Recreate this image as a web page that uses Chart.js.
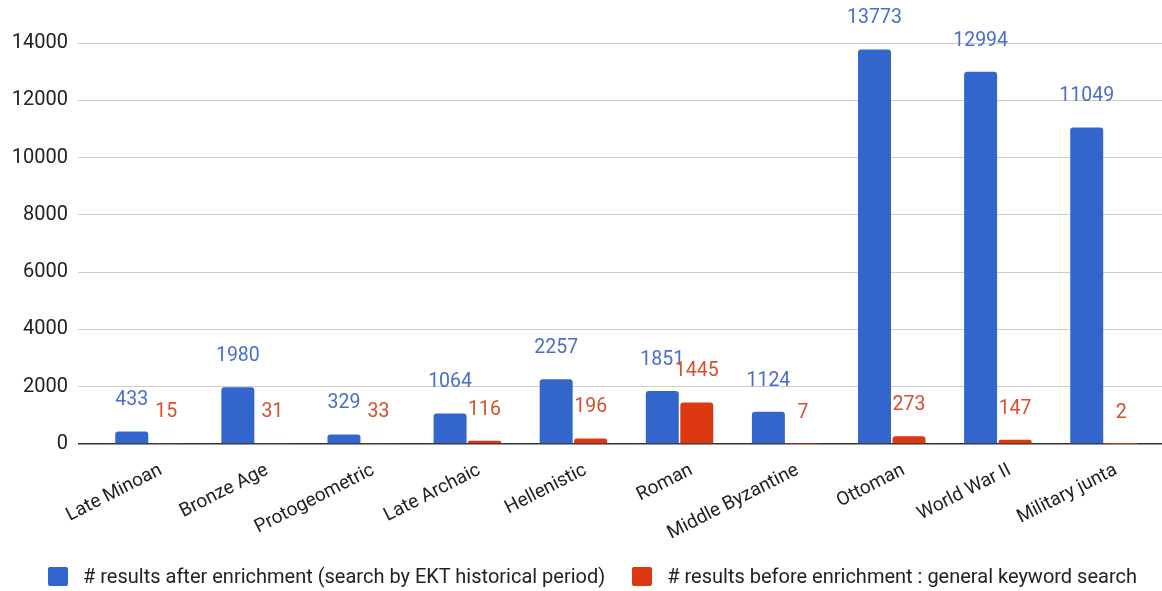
<!DOCTYPE html>
<html>
<head>
<meta charset="utf-8">
<script src="https://cdn.jsdelivr.net/npm/chart.js@4"></script>
<style>
  html, body { margin: 0; padding: 0; background: #ffffff; }
  #wrap { position: relative; width: 1162px; height: 591px; overflow: hidden; }
  #c { position: absolute; left: 0; top: 0; }
  #legend { position: absolute; left: 48px; top: 564px; display: flex; align-items: center;
            font-family: Roboto, sans-serif; font-size: 20px; color: #222; white-space: nowrap; }
  .item { display: flex; align-items: center; margin-right: 27px; }
  .box { width: 20px; height: 19px; border-radius: 2px; margin-right: 15px; }
</style>
</head>
<body>
<div id="wrap">
  <canvas id="c" width="1162" height="591"></canvas>
  <div id="legend"></div>
</div>
<script>
const categories = ["Late Minoan", "Bronze Age", "Protogeometric", "Late Archaic", "Hellenistic",
                    "Roman", "Middle Byzantine", "Ottoman", "World War II", "Military junta"];
const afterEnrichment = [433, 1980, 329, 1064, 2257, 1851, 1124, 13773, 12994, 11049];
const beforeEnrichment = [15, 31, 33, 116, 196, 1445, 7, 273, 147, 2];
const yTicks = [0, 2000, 4000, 6000, 8000, 10000, 12000, 14000];
const seriesNames = ["# results after enrichment (search by EKT historical period)",
                     "# results before enrichment : general keyword search"];
const barColors = ["#3366cc", "#dc3912"];
const labelColors = ["#4a6fc8", "#d6502e"];
const seriesValues = [afterEnrichment, beforeEnrichment];

const valueLabels = {
  id: 'valueLabels',
  afterDatasetsDraw(chart) {
    const ctx = chart.ctx;
    ctx.save();
    ctx.font = '19.5px Roboto, sans-serif';
    ctx.textAlign = 'center';
    ctx.textBaseline = 'middle';
    chart.data.datasets.forEach((ds, i) => {
      const meta = chart.getDatasetMeta(i);
      ctx.fillStyle = labelColors[i];
      meta.data.forEach((el, j) => {
        ctx.fillText(String(seriesValues[i][j]), el.x, el.y - 31);
      });
    });
    ctx.restore();
  }
};

new Chart(document.getElementById('c'), {
  type: 'bar',
  data: {
    datasets: seriesValues.map((vals, i) => ({
      label: seriesNames[i],
      data: vals.map((v, j) => ({ x: j, y: v })),
      backgroundColor: barColors[i],
      borderWidth: 0,
      borderRadius: { topLeft: 3, topRight: 3, bottomLeft: 0, bottomRight: 0 },
      borderSkipped: 'bottom',
      categoryPercentage: 0.65,
      barPercentage: 0.956
    }))
  },
  options: {
    responsive: false,
    animation: false,
    devicePixelRatio: 1,
    layout: { padding: { left: 0, right: 0, top: 43, bottom: 0 } },
    plugins: { legend: { display: false }, tooltip: { enabled: false } },
    scales: {
      x: {
        type: 'linear',
        offset: false,
        min: -0.669,
        max: 9.547,
        afterBuildTicks: (s) => { s.ticks = categories.map((c, i) => ({ value: i })); },
        afterFit: (s) => { s.height = 147; },
        ticks: {
          callback: (v) => categories[v],
          autoSkip: false,
          minRotation: 27,
          maxRotation: 27,
          padding: 7,
          labelOffset: 12,
          color: '#222',
          font: { family: 'Roboto', size: 19 }
        },
        grid: { display: false, offset: false },
        border: { display: false }
      },
      y: {
        min: 0,
        max: 14000,
        afterBuildTicks: (s) => { s.ticks = yTicks.map(v => ({ value: v })); },
        afterFit: (s) => { s.width = 78; },
        ticks: {
          padding: 10,
          color: '#222',
          font: { family: 'Roboto', size: 20 },
          callback: (v) => String(v)
        },
        grid: {
          drawTicks: false,
          color: (c) => c.tick && c.tick.value === 0 ? '#333333' : '#cccccc',
          lineWidth: (c) => c.tick && c.tick.value === 0 ? 1.5 : 1
        },
        border: { display: false }
      }
    }
  },
  plugins: [valueLabels]
});

const legend = document.getElementById('legend');
seriesNames.forEach((name, i) => {
  const item = document.createElement('div');
  item.className = 'item';
  const box = document.createElement('div');
  box.className = 'box';
  box.style.background = barColors[i];
  const txt = document.createElement('span');
  txt.textContent = name;
  item.appendChild(box);
  item.appendChild(txt);
  legend.appendChild(item);
});
</script>
</body>
</html>
